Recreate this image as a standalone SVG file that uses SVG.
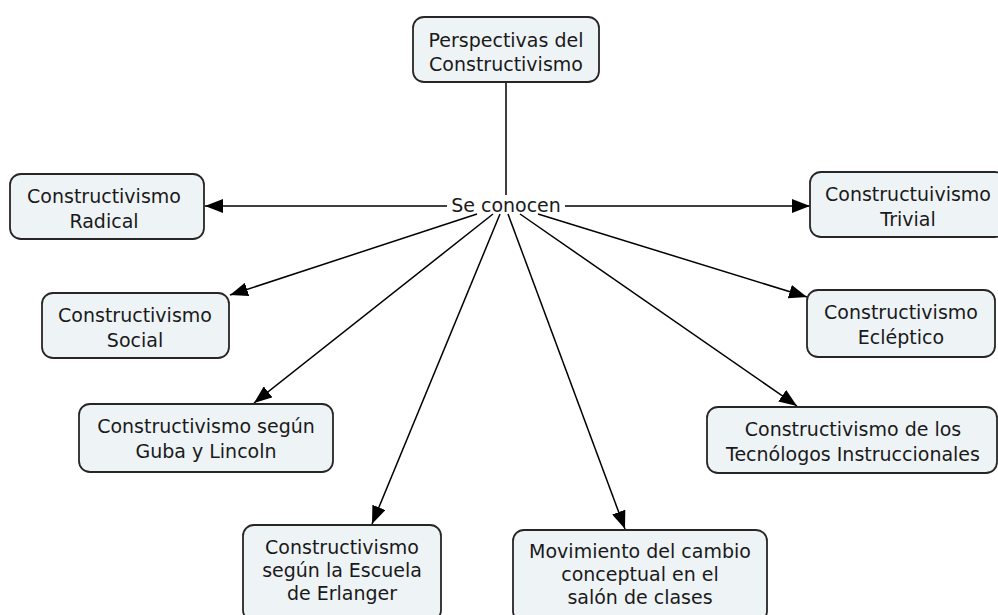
<svg xmlns="http://www.w3.org/2000/svg" width="998" height="615" viewBox="0 0 998 615">
<defs>
<marker id="ah" markerWidth="18" markerHeight="14" viewBox="0 0 18 14" refX="18" refY="7" orient="auto" markerUnits="userSpaceOnUse">
<path d="M0,0 L18,7 L0,14 Z" fill="#000"/>
</marker>
<style>
.box{fill:#eef3f6;stroke:#262626;stroke-width:1.8}
.t{font-family:Verdana,"DejaVu Sans",sans-serif;font-size:19px;fill:#1a1a1a;text-anchor:middle}
.c{stroke:#000;stroke-width:1.5;fill:none}
.a{stroke:#000;stroke-width:1.5;fill:none;marker-end:url(#ah)}
</style>
</defs>
<rect width="998" height="615" fill="#fff"/>
<g id="connectors">
<line class="c" x1="506" y1="82" x2="506" y2="195"/>
<line class="a" x1="447" y1="206" x2="205" y2="206"/>
<line class="a" x1="565" y1="206" x2="810" y2="206"/>
<line class="a" x1="477" y1="214" x2="230" y2="295"/>
<line class="a" x1="493" y1="214" x2="254" y2="403"/>
<line class="a" x1="500" y1="214" x2="372" y2="524"/>
<line class="a" x1="508" y1="214" x2="625" y2="529"/>
<line class="a" x1="520" y1="214" x2="797" y2="406"/>
<line class="a" x1="538" y1="214" x2="807" y2="297"/>
</g>
<g id="linking-phrase">
<text class="t" x="506" y="212">Se conocen</text>
</g>
<g id="n-perspectivas">
<rect class="box" x="413" y="17" width="186" height="65" rx="11"/>
<text class="t" x="506" y="47">Perspectivas del</text>
<text class="t" x="506" y="71">Constructivismo</text>
</g>
<g id="n-radical">
<rect class="box" x="10" y="174" width="194" height="65" rx="11"/>
<text class="t" x="104" y="203">Constructivismo</text>
<text class="t" x="104" y="228">Radical</text>
</g>
<g id="n-trivial">
<rect class="box" x="810" y="172" width="196" height="65" rx="11"/>
<text class="t" x="908" y="201">Constructuivismo</text>
<text class="t" x="908" y="226">Trivial</text>
</g>
<g id="n-social">
<rect class="box" x="42" y="293" width="187" height="65" rx="11"/>
<text class="t" x="135" y="322">Constructivismo</text>
<text class="t" x="135" y="347">Social</text>
</g>
<g id="n-ecleptico">
<rect class="box" x="807" y="290" width="188" height="67" rx="11"/>
<text class="t" x="901" y="319">Constructivismo</text>
<text class="t" x="901" y="344">Ecléptico</text>
</g>
<g id="n-guba">
<rect class="box" x="79" y="404" width="254" height="68" rx="11"/>
<text class="t" x="206" y="433">Constructivismo según</text>
<text class="t" x="206" y="458">Guba y Lincoln</text>
</g>
<g id="n-tecnologos">
<rect class="box" x="707" y="407" width="290" height="66" rx="11"/>
<text class="t" x="853" y="436">Constructivismo de los</text>
<text class="t" x="853" y="461">Tecnólogos Instruccionales</text>
</g>
<g id="n-erlanger">
<rect class="box" x="243" y="525" width="198" height="96" rx="11"/>
<text class="t" x="342" y="554">Constructivismo</text>
<text class="t" x="342" y="577">según la Escuela</text>
<text class="t" x="342" y="600">de Erlanger</text>
</g>
<g id="n-movimiento">
<rect class="box" x="513" y="530" width="254" height="92" rx="11"/>
<text class="t" x="640" y="558">Movimiento del cambio</text>
<text class="t" x="640" y="581">conceptual en el</text>
<text class="t" x="640" y="604">salón de clases</text>
</g>
</svg>
